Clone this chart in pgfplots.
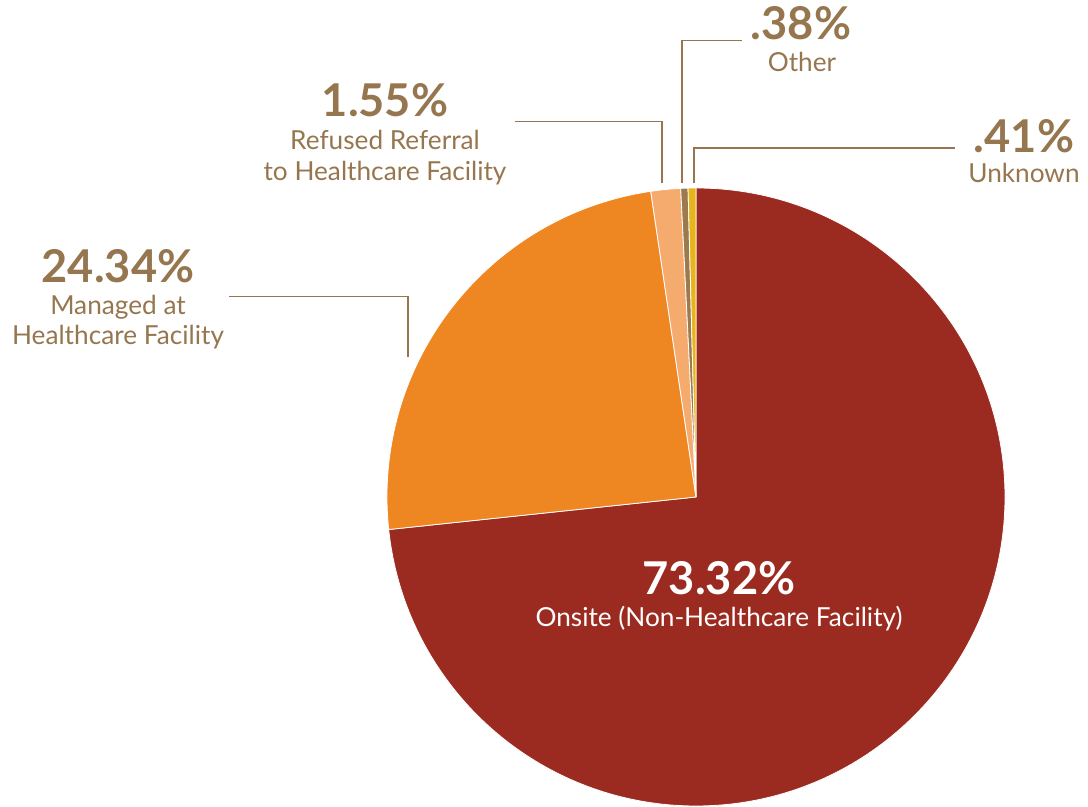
\documentclass[border=0pt]{standalone}
\usepackage{pgfplots}
\usepackage{pgfplotstable}
\pgfplotsset{compat=1.18}
\usepackage{fontspec}
\setmainfont{Lato}

\definecolor{onsite}{HTML}{9B2B20}
\definecolor{managed}{HTML}{EE8622}
\definecolor{refused}{HTML}{F5AA6E}
\definecolor{other}{HTML}{9C7A4E}
\definecolor{unknown}{HTML}{E8B41E}
\definecolor{txt}{HTML}{96764E}

% share of cases, clockwise from 12 o'clock
\pgfplotstableread{
share colour
73.32 onsite
24.34 managed
1.55  refused
0.38  other
0.41  unknown
}\slices

\newcommand\pct{\fontsize{22.6}{24}\selectfont\bfseries}
\newcommand\lab{\fontsize{13.1}{15}\selectfont}
\tikzset{pc/.style={anchor=base, inner sep=0pt, font=\pct},
         lb/.style={anchor=base, inner sep=0pt, font=\lab}}

\begin{document}
\begin{tikzpicture}
\begin{axis}[
  x=0.5pt, y=0.5pt,
  xmin=0, xmax=1088, ymin=0, ymax=807,
  hide axis, clip=false,
]
\pgfplotsextra{
  \def\angA{90}
  \pgfplotsforeachungrouped \i in {0,...,4}{%
    \pgfplotstablegetelem{\i}{share}\of\slices \let\v=\pgfplotsretval
    \pgfplotstablegetelem{\i}{colour}\of\slices \let\c=\pgfplotsretval
    \pgfmathsetmacro\angB{\angA-3.6*\v}
    \fill[fill=\c, draw=white, line width=0.4pt] (axis cs:696,310) -- ++(\angA:154.5pt)
      arc[start angle=\angA, end angle=\angB, radius=154.5pt] -- cycle;
    \let\angA=\angB
  }
  % leader lines
  \draw[txt, line width=0.75pt] (axis cs:229,510.3) -- (axis cs:408,510.3) -- (axis cs:408,450);
  \draw[txt, line width=0.75pt] (axis cs:515,685.5) -- (axis cs:662,685.5) -- (axis cs:662,624);
  \draw[txt, line width=0.75pt] (axis cs:742,766.5) -- (axis cs:682,766.5) -- (axis cs:682,624);
  \draw[txt, line width=0.75pt] (axis cs:955,659) -- (axis cs:694,659) -- (axis cs:694,624);
  % labels
  \node[txt, pc] at (axis cs:118,524) {24.34\%};
  \node[txt, lb] at (axis cs:118,492) {Managed at};
  \node[txt, lb] at (axis cs:118,462) {Healthcare Facility};
  \node[txt, pc] at (axis cs:385,690) {1.55\%};
  \node[txt, lb] at (axis cs:385,657) {Refused Referral};
  \node[txt, lb] at (axis cs:385,626) {to Healthcare Facility};
  \node[txt, pc] at (axis cs:801,767) {.38\%};
  \node[txt, lb] at (axis cs:802,735) {Other};
  \node[txt, pc] at (axis cs:1024,654) {.41\%};
  \node[txt, lb] at (axis cs:1024,624) {Unknown};
  \node[white, pc] at (axis cs:719,212) {73.32\%};
  \node[white, lb] at (axis cs:719,180) {Onsite (Non-Healthcare Facility)};
}
\end{axis}
\pgfresetboundingbox
\path (0,0) rectangle (544pt,403.5pt);
\end{tikzpicture}
\end{document}
